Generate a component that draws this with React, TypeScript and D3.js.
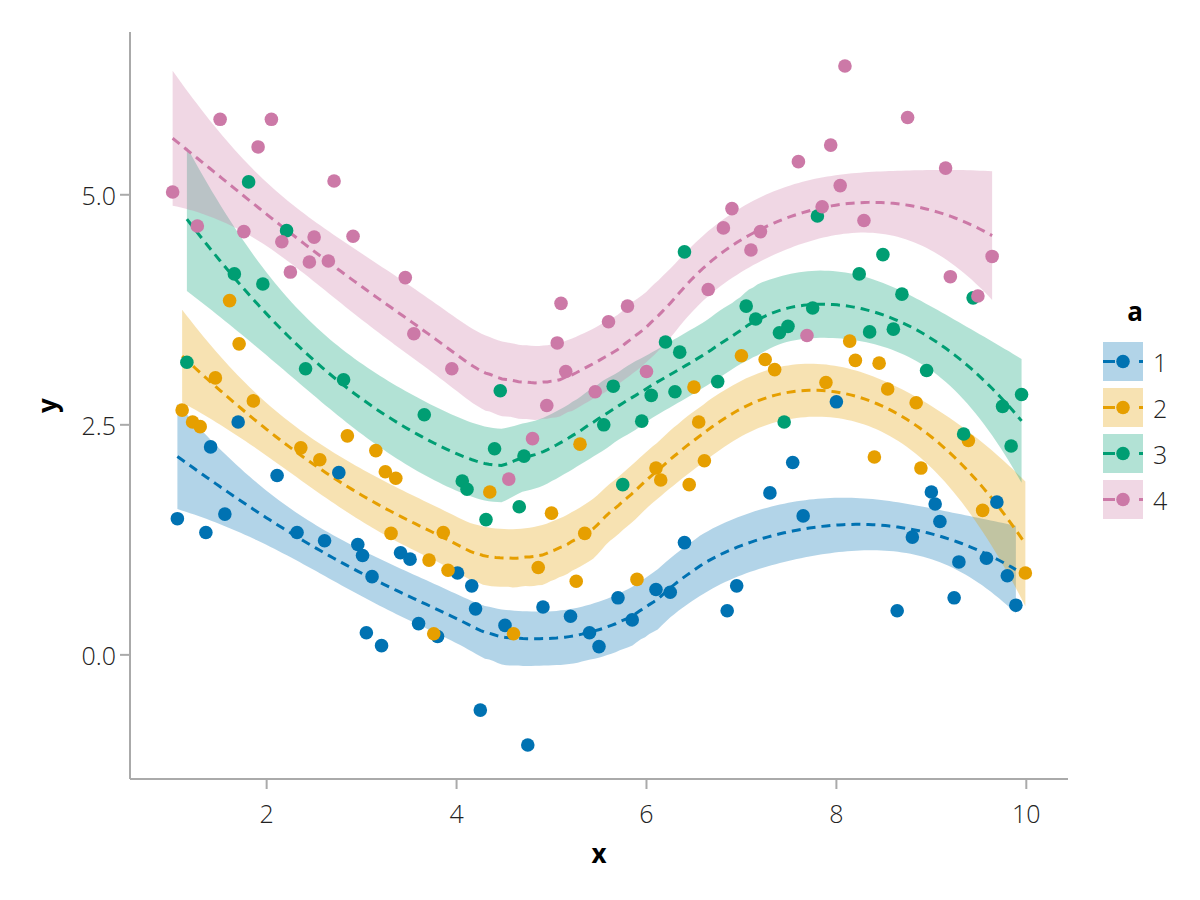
import React from 'react';
import * as d3 from 'd3';

const groupLabels = ['1', '2', '3', '4'];
const groupColors = ['#0072B2', '#E69F00', '#009E73', '#CC79A7'];

const x1 = [1.06,1.36,1.41,1.56,1.70,2.11,2.32,2.61,2.76,2.96,3.01,3.05,3.11,3.21,3.41,3.51,3.60,3.80,4.01,4.16,4.20,4.25,4.51,4.75,4.91,5.20,5.40,5.50,5.70,5.85,6.10,6.25,6.40,6.85,6.95,7.30,7.54,7.65,8.00,8.64,8.80,9.00,9.04,9.09,9.24,9.29,9.58,9.69,9.80,9.89];
const y1 = [1.48,1.33,2.26,1.53,2.53,1.95,1.33,1.24,1.98,1.20,1.08,0.24,0.85,0.10,1.11,1.04,0.34,0.20,0.89,0.75,0.50,-0.60,0.32,-0.98,0.52,0.42,0.24,0.09,0.62,0.38,0.71,0.68,1.22,0.48,0.75,1.76,2.09,1.51,2.75,0.48,1.28,1.77,1.64,1.45,0.62,1.01,1.05,1.66,0.86,0.54];

const x2 = [1.11,1.22,1.30,1.46,1.61,1.71,1.86,2.36,2.56,2.85,3.15,3.25,3.31,3.36,3.71,3.76,3.86,3.91,4.35,4.60,4.86,5.00,5.26,5.30,5.35,5.90,6.10,6.15,6.45,6.50,6.55,6.61,7.00,7.25,7.35,7.89,8.14,8.20,8.40,8.45,8.54,8.84,8.89,9.39,9.54,9.99];
const y2 = [2.66,2.53,2.48,3.01,3.85,3.38,2.76,2.25,2.12,2.38,2.22,1.99,1.32,1.92,1.03,0.23,1.33,0.92,1.77,0.23,0.95,1.54,0.80,2.29,1.32,0.82,2.03,1.90,1.85,2.91,2.53,2.11,3.25,3.21,3.10,2.96,3.41,3.20,2.15,3.17,2.89,2.74,2.03,2.33,1.57,0.89];

const x3 = [1.16,1.66,1.81,1.96,2.21,2.41,2.81,3.66,4.06,4.11,4.31,4.40,4.46,4.66,4.71,5.55,5.65,5.75,5.95,6.05,6.20,6.30,6.35,6.40,6.75,7.05,7.15,7.40,7.45,7.49,7.75,7.80,8.24,8.35,8.49,8.60,8.69,8.95,9.34,9.44,9.75,9.84,9.95];
const y3 = [3.18,4.14,5.14,4.03,4.61,3.11,2.99,2.61,1.89,1.80,1.47,2.24,2.87,1.61,2.16,2.50,2.92,1.85,2.54,2.82,3.40,2.86,3.29,4.38,2.97,3.79,3.65,3.50,2.53,3.57,3.77,4.77,4.14,3.51,4.35,3.54,3.92,3.09,2.40,3.88,2.70,2.27,2.83];

const x4 = [1.01,1.27,1.51,1.76,1.91,2.05,2.16,2.25,2.45,2.50,2.65,2.71,2.91,3.46,3.55,3.95,4.55,4.80,4.95,5.06,5.10,5.15,5.46,5.60,5.80,6.00,6.65,6.81,6.90,7.10,7.20,7.60,7.69,7.85,7.94,8.04,8.09,8.29,8.75,9.15,9.20,9.49,9.64];
const y4 = [5.03,4.66,5.82,4.60,5.52,5.82,4.49,4.16,4.27,4.54,4.28,5.15,4.55,4.10,3.49,3.11,1.91,2.35,2.71,3.39,3.82,3.08,2.86,3.62,3.79,3.08,3.97,4.64,4.85,4.40,4.60,5.36,3.47,4.87,5.54,5.10,6.40,4.72,5.84,5.29,4.11,3.90,4.33];

const xTicks = [2, 4, 6, 8, 10];
const yTicks = [0, 2.5, 5];
const xTitle = 'x';
const yTitle = 'y';
const legendTitle = 'a';

const SPAN = 0.75;
const NPOINTS = 200;

// local quadratic regression weights (one row of the loess operator)
function loessRow(xs: number[], x0: number, span: number): number[] {
  const n = xs.length;
  const q = Math.floor(n * span);
  const ds = xs.map((x) => Math.abs(x - x0));
  const sorted = [...ds].sort((a, b) => a - b);
  const dmax = sorted[q - 1];
  const w = ds.map((d) => {
    if (d >= dmax) return 0;
    const r = d / dmax;
    const t = 1 - r * r * r;
    return t * t * t;
  });
  // normal equations
  const A = [[0, 0, 0], [0, 0, 0], [0, 0, 0]];
  for (let i = 0; i < n; i++) {
    if (w[i] === 0) continue;
    const u = xs[i] - x0;
    const phi = [1, u, u * u];
    for (let a = 0; a < 3; a++) for (let b = 0; b < 3; b++) A[a][b] += w[i] * phi[a] * phi[b];
  }
  // solve A c = e1
  const M = A.map((r, i) => [...r, i === 0 ? 1 : 0]);
  for (let c = 0; c < 3; c++) {
    let p = c;
    for (let r = c + 1; r < 3; r++) if (Math.abs(M[r][c]) > Math.abs(M[p][c])) p = r;
    [M[c], M[p]] = [M[p], M[c]];
    for (let r = 0; r < 3; r++) {
      if (r === c) continue;
      const f = M[r][c] / M[c][c];
      for (let k = c; k < 4; k++) M[r][k] -= f * M[c][k];
    }
  }
  const cv = [M[0][3] / M[0][0], M[1][3] / M[1][1], M[2][3] / M[2][2]];
  return xs.map((x, i) => {
    const u = x - x0;
    return w[i] * (cv[0] + cv[1] * u + cv[2] * u * u);
  });
}

function tQuantile975(nu: number): number {
  const z = 1.959963985;
  const z3 = z ** 3, z5 = z ** 5, z7 = z ** 7;
  return z + (z3 + z) / (4 * nu) + (5 * z5 + 16 * z3 + 3 * z) / (96 * nu * nu) +
    (3 * z7 + 19 * z5 + 17 * z3 - 15 * z) / (384 * nu ** 3);
}

type Fit = { x: number; y: number; lo: number; hi: number };

function smoothFit(xs: number[], ys: number[]): Fit[] {
  const n = xs.length;
  const L = xs.map((x0) => loessRow(xs, x0, SPAN));
  const B = L.map((row, i) => row.map((v, j) => (i === j ? 1 : 0) - v));
  let d1 = 0;
  for (let i = 0; i < n; i++) for (let j = 0; j < n; j++) d1 += B[i][j] * B[i][j];
  let d2 = 0;
  for (let i = 0; i < n; i++) {
    for (let j = 0; j < n; j++) {
      let m = 0;
      for (let k = 0; k < n; k++) m += B[k][i] * B[k][j];
      d2 += m * m;
    }
  }
  let rss = 0;
  for (let i = 0; i < n; i++) {
    const fit = d3.sum(L[i], (v, j) => v * ys[j]);
    rss += (ys[i] - fit) ** 2;
  }
  const s = Math.sqrt(rss / d1);
  const rho = (d1 * d1) / d2;
  const qt = tQuantile975(rho);
  const [xmin, xmax] = d3.extent(xs) as [number, number];
  const out: Fit[] = [];
  for (let k = 0; k < NPOINTS; k++) {
    const x0 = xmin + ((xmax - xmin) * k) / (NPOINTS - 1);
    const l = loessRow(xs, x0, SPAN);
    const yhat = d3.sum(l, (v, j) => v * ys[j]);
    const se = s * Math.sqrt(d3.sum(l, (v) => v * v));
    out.push({ x: x0, y: yhat, lo: yhat - qt * se, hi: yhat + qt * se });
  }
  return out;
}

const groupXs = [x1, x2, x3, x4];
const groupYs = [y1, y2, y3, y4];

export default function App() {
  const W = 1200, H = 900;
  const left = 130, right = 1068, top = 32, bottom = 779;

  const fits = groupXs.map((xs, g) => smoothFit(xs, groupYs[g]));

  const allX = groupXs.flat();
  const allY = [...groupYs.flat(), ...fits.flatMap((f) => f.flatMap((p) => [p.lo, p.hi]))];
  const [xa, xb] = d3.extent(allX) as [number, number];
  const [ya, yb] = d3.extent(allY) as [number, number];
  const xp = (xb - xa) * 0.05, yp = (yb - ya) * 0.05;

  const xScale = d3.scaleLinear().domain([xa - xp, xb + xp]).range([left, right]);
  const yScale = d3.scaleLinear().domain([ya - yp, yb + yp]).range([bottom, top]);

  const area = d3.area<Fit>().x((d) => xScale(d.x)).y0((d) => yScale(d.lo)).y1((d) => yScale(d.hi));
  const line = d3.line<Fit>().x((d) => xScale(d.x)).y((d) => yScale(d.y));

  const font = "'Open Sans', 'Noto Sans', 'DejaVu Sans', sans-serif";
  const axisColor = '#aaaaaa';
  const tickFmt = d3.format('.1f');

  const legX = 1103, legY0 = 342, legStep = 46, patchW = 40, patchH = 39;

  return (
    <svg width={W} height={H} style={{ position: 'absolute', left: 0, top: 0, background: '#fff' }} fontFamily={font}>
      {/* bands */}
      {fits.map((f, g) => (
        <path key={'b' + g} d={area(f) || ''} fill={groupColors[g]} fillOpacity={0.3} stroke="none" />
      ))}
      {/* lines */}
      {fits.map((f, g) => (
        <path key={'l' + g} d={line(f) || ''} fill="none" stroke={groupColors[g]} strokeWidth={3} strokeDasharray="9 6" />
      ))}
      {/* points */}
      {groupXs.map((xs, g) => (
        <g key={'p' + g} fill={groupColors[g]}>
          {xs.map((x, i) => (
            <circle key={i} cx={xScale(x)} cy={yScale(groupYs[g][i])} r={6.8} />
          ))}
        </g>
      ))}

      {/* axes */}
      <line x1={left} x2={left} y1={top} y2={bottom} stroke={axisColor} strokeWidth={2} />
      <line x1={left} x2={right} y1={bottom} y2={bottom} stroke={axisColor} strokeWidth={2} />
      {xTicks.map((t) => (
        <g key={'xt' + t}>
          <line x1={xScale(t)} x2={xScale(t)} y1={bottom} y2={bottom + 10} stroke={axisColor} strokeWidth={2} />
          <text x={xScale(t)} y={bottom + 34} textAnchor="middle" dominantBaseline="central" fontSize={25} fontWeight={300} fill="#222">{t}</text>
        </g>
      ))}
      {yTicks.map((t) => (
        <g key={'yt' + t}>
          <line x1={left - 10} x2={left} y1={yScale(t)} y2={yScale(t)} stroke={axisColor} strokeWidth={2} />
          <text x={left - 14} y={yScale(t)} textAnchor="end" dominantBaseline="central" fontSize={25} fontWeight={300} fill="#222">{tickFmt(t)}</text>
        </g>
      ))}
      <text x={(left + right) / 2} y={853} textAnchor="middle" dominantBaseline="central" fontSize={26} fontWeight={700} fill="#000">{xTitle}</text>
      <text transform={`translate(47,${(top + bottom) / 2}) rotate(-90)`} textAnchor="middle" dominantBaseline="central" fontSize={26} fontWeight={700} fill="#000">{yTitle}</text>

      {/* legend */}
      <text x={legX + patchW / 2 + 12} y={311} textAnchor="middle" dominantBaseline="central" fontSize={26} fontWeight={700} fill="#000">{legendTitle}</text>
      {groupLabels.map((lab, g) => {
        const y = legY0 + g * legStep;
        return (
          <g key={'lg' + g}>
            <rect x={legX} y={y} width={patchW} height={patchH} fill={groupColors[g]} fillOpacity={0.3} />
            <line x1={legX} x2={legX + patchW} y1={y + patchH / 2} y2={y + patchH / 2} stroke={groupColors[g]} strokeWidth={3} strokeDasharray="12 24" />
            <circle cx={legX + patchW / 2} cy={y + patchH / 2} r={6.8} fill={groupColors[g]} />
            <text x={legX + patchW + 10} y={y + patchH / 2} dominantBaseline="central" fontSize={25} fontWeight={300} fill="#222">{lab}</text>
          </g>
        );
      })}
    </svg>
  );
}
